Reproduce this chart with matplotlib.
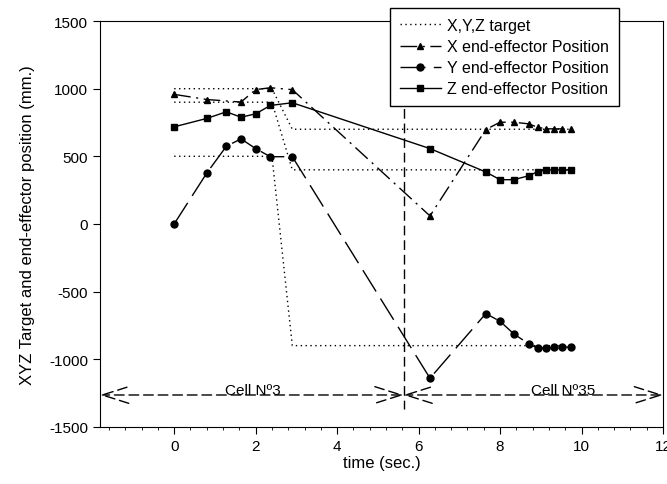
import numpy as np
import matplotlib.pyplot as plt
from matplotlib.ticker import MultipleLocator

plt.rcParams['font.family'] = ['Liberation Sans', 'DejaVu Sans']
plt.rcParams['axes.unicode_minus'] = False

# time samples (sec.)
t = [0, 0.8, 1.28, 1.64, 2.0, 2.36, 2.9, 6.28, 7.65, 8.0, 8.34, 8.7, 8.92, 9.13, 9.33, 9.53, 9.73]
# X end-effector (no sample at 1.28)
t_x = [0, 0.8, 1.64, 2.0, 2.36, 2.9, 6.28, 7.65, 8.0, 8.34, 8.7, 8.92, 9.13, 9.33, 9.53, 9.73]
x_pos = [958, 920, 901, 993, 1007, 993, 59, 698, 752, 752, 740, 715, 703, 703, 703, 703]
y_pos = [0, 376, 574, 629, 557, 497, 497, -1141, -663, -720, -814, -886, -918, -918, -913, -911, -911]
z_pos = [718, 780, 829, 789, 814, 876, 896, 557, 384, 327, 327, 356, 386, 399, 399, 399, 399]

# targets
t_target = [0, 2.4, 2.9, 9.75]
x_target = [1000, 1000, 700, 700]
y_target = [500, 500, -900, -900]
z_target = [900, 900, 400, 400]

cell_split = 5.63
arrow_y = -1265
cell_labels = ['Cell Nº3', 'Cell Nº35']

fig = plt.figure(figsize=(6.67, 4.85), dpi=100)
ax = fig.add_axes([0.15, 0.118, 0.844, 0.8365])

ax.plot(t_target, x_target, color='black', lw=1, ls=(0, (1, 2.5)), label='X,Y,Z target')
ax.plot(t_target, y_target, color='black', lw=1, ls=(0, (1, 2.5)))
ax.plot(t_target, z_target, color='black', lw=1, ls=(0, (1, 2.5)))

ax.plot(t_x, x_pos, color='black', lw=1, ls=(0, (12, 4, 1.5, 4)), marker='^', ms=5,
        label='X end-effector Position')
ax.plot(t, y_pos, color='black', lw=1, ls=(0, (18, 6)), marker='o', ms=5,
        label='Y end-effector Position')
ax.plot(t, z_pos, color='black', lw=1, ls='-', marker='s', ms=4.5,
        label='Z end-effector Position')

ax.set_xlim(-1.82, 12)
ax.set_ylim(-1500, 1500)

# cell boundary and cell span arrows
ax.plot([cell_split, cell_split], [1500, -1370], color='black', lw=1, ls=(0, (7, 3.5)))
for x0, x1 in [(-1.82, cell_split), (cell_split, 12)]:
    ax.annotate('', xy=(x0, arrow_y), xytext=(x1, arrow_y),
                arrowprops=dict(arrowstyle='<->,head_length=1.9,head_width=0.6',
                                linestyle=(0, (7, 3.5)), lw=1, color='black',
                                shrinkA=0, shrinkB=0, mutation_scale=10))
ax.text(1.94, arrow_y - 15, cell_labels[0], ha='center', va='bottom', fontsize=11)
ax.text(9.54, arrow_y - 15, cell_labels[1], ha='center', va='bottom', fontsize=11)

ax.set_xticks(np.arange(0, 13, 2))
ax.set_yticks(np.arange(-1500, 1501, 500))
ax.xaxis.set_minor_locator(MultipleLocator(0.4))
ax.tick_params(axis='both', which='major', direction='out', length=5, labelsize=11)
ax.tick_params(axis='x', which='minor', direction='out', length=2.5)
ax.set_xlabel('time (sec.)', fontsize=12, labelpad=2)
ax.set_ylabel('XYZ Target and end-effector position (mm.)', fontsize=12, labelpad=10)

leg = ax.legend(loc='upper left', bbox_to_anchor=(0.515, 1.031), borderaxespad=0,
                fontsize=11.5, numpoints=1, handlelength=2.6, handletextpad=0.4,
                labelspacing=0.38, borderpad=0.6,
                fancybox=False, framealpha=1, edgecolor='black')
leg.get_frame().set_linewidth(1)
leg.set_zorder(10)

fig.savefig('out.png', dpi=100)
